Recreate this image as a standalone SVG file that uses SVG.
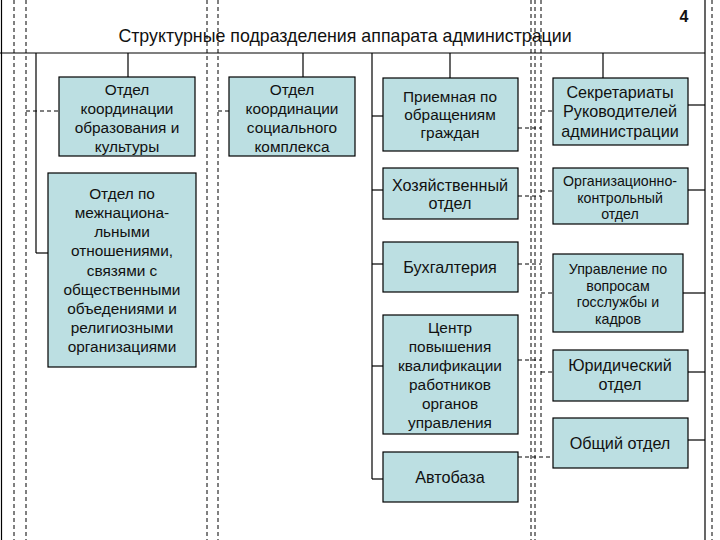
<svg xmlns="http://www.w3.org/2000/svg" width="720" height="540" viewBox="0 0 720 540">
<style>
.box{fill:#bcdfe2;stroke:#000;stroke-width:1.2}
.ln{stroke:#000;stroke-width:1.2;fill:none}
.dl{stroke:#000;stroke-width:1;stroke-dasharray:4 3;fill:none}
text{font-family:"Liberation Sans",Arial,sans-serif;fill:#111;text-anchor:middle}
.t14{font-size:15.4px}
.t15{font-size:16.2px}
.t13{font-size:14.2px}
</style>
<rect width="720" height="540" fill="#fff"/>
<g id="connectors">
<line class="ln" x1="1.5" y1="0" x2="1.5" y2="540"/>
<line class="dl" x1="14" y1="0" x2="14" y2="540"/>
<line class="dl" x1="26" y1="0" x2="26" y2="540"/>
<line class="dl" x1="207" y1="0" x2="207" y2="540"/>
<line class="dl" x1="218" y1="0" x2="218" y2="540"/>
<line class="dl" x1="531" y1="0" x2="531" y2="540"/>
<line class="dl" x1="535" y1="0" x2="535" y2="540"/>
<line class="dl" x1="541" y1="0" x2="541" y2="455"/>
<line class="dl" x1="712" y1="0" x2="712" y2="540"/>
<line class="ln" x1="705" y1="0" x2="705" y2="540"/>
<line class="ln" x1="0" y1="53" x2="705" y2="53"/>
<line class="ln" x1="36" y1="53" x2="36" y2="253"/>
<line class="ln" x1="36" y1="253" x2="48" y2="253"/>
<line class="ln" x1="128" y1="53" x2="128" y2="77"/>
<line class="ln" x1="303" y1="53" x2="303" y2="77"/>
<line class="ln" x1="450" y1="53" x2="450" y2="78"/>
<line class="ln" x1="603" y1="53" x2="603" y2="78"/>
<line class="ln" x1="372" y1="53" x2="372" y2="479"/>
<line class="ln" x1="372" y1="116" x2="383" y2="116"/>
<line class="ln" x1="372" y1="190" x2="383" y2="190"/>
<line class="ln" x1="372" y1="264" x2="383" y2="264"/>
<line class="ln" x1="372" y1="366" x2="383" y2="366"/>
<line class="ln" x1="372" y1="479" x2="383" y2="479"/>
<line class="ln" x1="688" y1="105" x2="705" y2="105"/>
<line class="ln" x1="688" y1="190" x2="705" y2="190"/>
<line class="ln" x1="683" y1="293" x2="705" y2="293"/>
<line class="ln" x1="688" y1="372" x2="705" y2="372"/>
<line class="ln" x1="688" y1="440" x2="705" y2="440"/>
<line class="dl" x1="26" y1="111" x2="59" y2="111"/>
<line class="dl" x1="218" y1="111" x2="229" y2="111"/>
<line class="dl" x1="518" y1="128" x2="541" y2="128"/>
<line class="dl" x1="541" y1="111" x2="553" y2="111"/>
<line class="dl" x1="518" y1="196" x2="541" y2="196"/>
<line class="dl" x1="541" y1="191" x2="553" y2="191"/>
<line class="dl" x1="518" y1="264" x2="541" y2="264"/>
<line class="dl" x1="541" y1="293" x2="553" y2="293"/>
<line class="dl" x1="518" y1="360" x2="541" y2="360"/>
<line class="dl" x1="541" y1="372" x2="553" y2="372"/>
<line class="dl" x1="518" y1="457" x2="553" y2="457"/>
</g>
<g id="title">
<text x="345" y="42" style="font-size:17.8px">Структурные подразделения аппарата администрации</text>
<text x="684" y="22" style="font-size:16px;font-weight:bold">4</text>
</g>
<g id="n-obr">
<rect class="box" x="59" y="77" width="136" height="79"/>
<text class="t14" x="127"><tspan x="127" y="95">Отдел</tspan><tspan x="127" y="114">координации</tspan><tspan x="127" y="133">образования и</tspan><tspan x="127" y="152">культуры</tspan></text>
</g>
<g id="n-soc">
<rect class="box" x="229" y="77" width="126" height="79"/>
<text class="t14" x="292"><tspan x="292" y="95">Отдел</tspan><tspan x="292" y="114">координации</tspan><tspan x="292" y="133">социального</tspan><tspan x="292" y="152">комплекса</tspan></text>
</g>
<g id="n-mezh">
<rect class="box" x="48" y="173" width="148" height="194"/>
<text class="t14" x="122"><tspan x="122" y="199">Отдел по</tspan><tspan x="122" y="218">межнациона-</tspan><tspan x="122" y="237">льными</tspan><tspan x="122" y="256">отношениями,</tspan><tspan x="122" y="276">связями с</tspan><tspan x="122" y="295">общественными</tspan><tspan x="122" y="314">объедениями и</tspan><tspan x="122" y="333">религиозными</tspan><tspan x="122" y="352">организациями</tspan></text>
</g>
<g id="n-priem">
<rect class="box" x="383" y="78" width="135" height="73"/>
<text class="t14" x="450"><tspan x="450" y="102">Приемная по</tspan><tspan x="450" y="120">обращениям</tspan><tspan x="450" y="138">граждан</tspan></text>
</g>
<g id="n-sekr">
<rect class="box" x="553" y="78" width="135" height="67"/>
<text class="t15" x="620"><tspan x="620" y="98">Секретариаты</tspan><tspan x="620" y="117">Руководителей</tspan><tspan x="620" y="137">администрации</tspan></text>
</g>
<g id="n-hoz">
<rect class="box" x="383" y="168" width="135" height="51"/>
<text class="t15" x="450"><tspan x="450" y="191">Хозяйственный</tspan><tspan x="450" y="209">отдел</tspan></text>
</g>
<g id="n-org">
<rect class="box" x="553" y="168" width="135" height="56"/>
<text class="t13" x="620"><tspan x="620" y="186">Организационно-</tspan><tspan x="620" y="203">контрольный</tspan><tspan x="620" y="219">отдел</tspan></text>
</g>
<g id="n-buh">
<rect class="box" x="383" y="242" width="135" height="50"/>
<text class="t15" x="450" y="273">Бухгалтерия</text>
</g>
<g id="n-upr">
<rect class="box" x="553" y="254" width="130" height="78"/>
<text class="t13" x="618"><tspan x="618" y="274">Управление по</tspan><tspan x="618" y="291">вопросам</tspan><tspan x="618" y="307">госслужбы и</tspan><tspan x="618" y="324">кадров</tspan></text>
</g>
<g id="n-centr">
<rect class="box" x="383" y="315" width="135" height="119"/>
<text class="t14" x="450"><tspan x="450" y="333">Центр</tspan><tspan x="450" y="352">повышения</tspan><tspan x="450" y="371">квалификации</tspan><tspan x="450" y="390">работников</tspan><tspan x="450" y="409">органов</tspan><tspan x="450" y="428">управления</tspan></text>
</g>
<g id="n-yur">
<rect class="box" x="553" y="350" width="135" height="51"/>
<text class="t15" x="620"><tspan x="620" y="371">Юридический</tspan><tspan x="620" y="390">отдел</tspan></text>
</g>
<g id="n-obsh">
<rect class="box" x="553" y="418" width="135" height="50"/>
<text class="t15" x="620" y="449">Общий отдел</text>
</g>
<g id="n-avto">
<rect class="box" x="383" y="452" width="135" height="50"/>
<text class="t15" x="450" y="483">Автобаза</text>
</g>
</svg>
